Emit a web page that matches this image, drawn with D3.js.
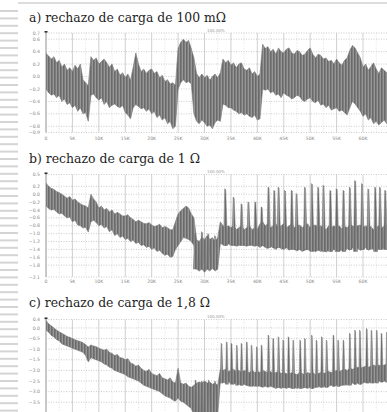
<!DOCTYPE html>
<html>
<head>
<meta charset="utf-8">
<script src="https://cdn.jsdelivr.net/npm/d3@7"></script>
<style>
  body { margin: 0; background: #fff; }
  svg { display: block; }
</style>
</head>
<body>
<script>
// x ticks (thousands of samples)
const xTicks = [0, 5, 10, 15, 20, 25, 30, 35, 40, 45, 50, 55, 60];
const xTickLabels = ["0", "5K", "10K", "15K", "20K", "25K", "30K", "35K", "40K", "45K", "50K", "55K", "60K"];
// the traces are read every 0.5K from 0 to 65K
const sampleStep = 0.5;

// a) 100 mOhm -- upper / lower edge of the noisy trace
const aHi = [
  0.37,0.33,0.28,0.32,0.22,0.26,0.15,0.2,0.1,0.14,
  0.08,0.18,0.12,0.2,-0.05,-0.1,-0.15,0.32,0.26,0.3,
  0.2,0.24,0.28,0.22,0.15,0.2,0.08,0.12,0.02,0.06,
  -0.02,0.04,-0.06,0.15,0.38,0.2,0.08,0.12,0.05,0.1,
  0.12,0.05,0.08,-0.02,0.02,-0.08,-0.05,-0.12,-0.1,-0.14,
  0.45,0.55,0.6,0.55,0.58,0.45,0.3,0.05,-0.02,0.04,
  -0.02,0.02,-0.06,0.0,0.04,-0.02,0.06,0.28,0.22,0.26,
  0.18,0.22,0.14,0.2,0.22,0.12,0.1,0.14,0.04,0.08,
  0.0,0.04,0.52,0.45,0.48,0.4,0.44,0.36,0.46,0.4,
  0.38,0.44,0.46,0.38,0.36,0.42,0.4,0.34,0.36,0.42,
  0.46,0.36,0.3,0.36,0.34,0.28,0.3,0.24,0.26,0.2,
  0.28,0.22,0.18,0.26,0.3,0.42,0.5,0.46,0.38,0.3,
  0.15,0.2,0.1,0.16,0.22,0.12,0.05,0.14,0.1,0.06,
  0.1];
const aLo = [
  -0.2,-0.26,-0.3,-0.28,-0.34,-0.3,-0.4,-0.36,-0.45,-0.42,
  -0.5,-0.46,-0.56,-0.5,-0.6,-0.58,-0.72,-0.3,-0.28,-0.34,
  -0.38,-0.34,-0.45,-0.4,-0.5,-0.46,-0.44,-0.48,-0.5,-0.46,
  -0.58,-0.62,-0.68,-0.5,-0.45,-0.48,-0.52,-0.5,-0.56,-0.52,
  -0.6,-0.56,-0.66,-0.62,-0.7,-0.66,-0.76,-0.72,-0.84,-0.8,
  -0.2,-0.1,-0.05,-0.1,-0.08,-0.12,-0.6,-0.72,-0.76,-0.7,
  -0.74,-0.8,-0.78,-0.84,-0.74,-0.7,-0.72,-0.44,-0.46,-0.5,
  -0.5,-0.54,-0.56,-0.6,-0.58,-0.62,-0.6,-0.64,-0.66,-0.62,
  -0.7,-0.68,-0.2,-0.22,-0.2,-0.26,-0.24,-0.3,-0.28,-0.34,
  -0.26,-0.3,-0.32,-0.36,-0.34,-0.3,-0.32,-0.38,-0.4,-0.36,
  -0.34,-0.4,-0.42,-0.38,-0.46,-0.44,-0.5,-0.46,-0.54,-0.52,
  -0.5,-0.56,-0.54,-0.58,-0.62,-0.5,-0.4,-0.44,-0.5,-0.56,
  -0.64,-0.6,-0.7,-0.66,-0.76,-0.72,-0.78,-0.74,-0.7,-0.76,
  -0.72];
const aYTicks = [0.7, 0.6, 0.4, 0.2, 0.0, -0.2, -0.4, -0.6, -0.8, -0.9];

// b) 1 Ohm
const bHi = [
  0.28,0.2,0.15,0.12,0.07,0.04,0.0,-0.05,-0.1,-0.06,
  -0.15,-0.12,-0.2,-0.24,-0.28,-0.3,-0.35,0.0,-0.12,-0.2,
  -0.35,-0.3,-0.4,-0.36,-0.45,-0.4,-0.5,-0.46,-0.5,-0.55,
  -0.55,-0.52,-0.6,-0.64,-0.7,-0.66,-0.7,-0.74,-0.75,-0.72,
  -0.78,-0.82,-0.8,-0.76,-0.85,-0.82,-0.85,-0.9,-0.9,-0.7,
  -0.5,-0.42,-0.36,-0.3,-0.35,-0.5,-0.6,-1.15,-1.2,-1.1,
  -1.15,-1.05,-1.15,-1.1,-1.2,-1.1,-0.7,-0.8,-0.85,-0.8,
  -0.85,-0.8,-0.9,-0.85,-0.8,-0.9,-0.85,-0.8,-0.9,-0.85,
  -0.9,-0.75,-0.7,-0.8,-0.75,-0.85,-0.8,-0.75,-0.85,-0.8,
  -0.75,-0.85,-0.8,-0.75,-0.85,-0.8,-0.78,-0.85,-0.8,-0.75,
  -0.85,-0.8,-0.78,-0.85,-0.8,-0.85,-0.9,-0.8,-0.85,-0.8,
  -0.85,-0.8,-0.88,-0.82,-0.85,-0.78,-0.8,-0.85,-0.8,-0.78,
  -0.85,-0.8,-0.85,-0.82,-0.9,-0.85,-0.8,-0.85,-0.82,-0.8,
  -0.85];
const bLo = [
  -0.3,-0.36,-0.4,-0.38,-0.45,-0.5,-0.48,-0.55,-0.6,-0.58,
  -0.7,-0.66,-0.78,-0.8,-0.86,-0.84,-0.96,-0.7,-0.66,-0.72,
  -0.8,-0.76,-0.86,-0.82,-0.95,-0.9,-1.05,-1.0,-1.1,-1.06,
  -1.15,-1.12,-1.2,-1.16,-1.25,-1.22,-1.3,-1.28,-1.35,-1.32,
  -1.4,-1.36,-1.45,-1.42,-1.5,-1.55,-1.52,-1.6,-1.58,-1.4,
  -1.3,-1.2,-1.1,-1.12,-1.15,-1.2,-1.3,-1.9,-1.95,-1.9,
  -1.98,-1.9,-1.95,-1.88,-1.95,-1.9,-1.25,-1.28,-1.3,-1.26,
  -1.3,-1.28,-1.32,-1.3,-1.28,-1.3,-1.32,-1.28,-1.3,-1.32,
  -1.3,-1.35,-1.3,-1.35,-1.38,-1.32,-1.36,-1.4,-1.34,-1.38,
  -1.4,-1.36,-1.42,-1.38,-1.4,-1.44,-1.4,-1.45,-1.42,-1.4,
  -1.44,-1.4,-1.46,-1.42,-1.45,-1.4,-1.47,-1.42,-1.45,-1.4,
  -1.42,-1.46,-1.4,-1.44,-1.38,-1.42,-1.36,-1.4,-1.38,-1.42,
  -1.4,-1.36,-1.42,-1.38,-1.4,-1.44,-1.38,-1.4,-1.36,-1.4,
  -1.4];
// sawtooth spikes on top of the trace: position (K), peak, foot
const bTeethX   = [28.2,29.5,30.7,32.0,33.9,35.5,37.0,38.3,39.6,40.8,42.1,43.2,44.0,45.2,46.5,47.4,49.0,50.3,51.5,52.5,53.8,55.0,56.3,57.5,58.5,59.8,61.0,62.3,63.2,64.2];
const bTeethTop = [-1.0,-0.95,-1.0,-1.05,0.14,-0.07,-0.24,-0.19,-0.19,-0.32,0.18,0.1,0.18,0.1,0.1,0.02,0.18,0.27,0.18,0.23,0.1,0.14,0.1,0.18,0.35,0.27,0.14,0.18,0.18,0.1];
const bTeethLo  = [-1.9,-1.9,-1.9,-1.9,-1.3,-1.3,-1.3,-1.3,-1.3,-1.3,-1.35,-1.35,-1.35,-1.35,-1.4,-1.4,-1.4,-1.45,-1.4,-1.45,-1.45,-1.45,-1.45,-1.4,-1.45,-1.4,-1.4,-1.45,-1.4,-1.4];
const bYTicks = [0.5, 0.2, 0.0, -0.2, -0.4, -0.6, -0.8, -1.0, -1.2, -1.4, -1.6, -1.8, -2.1];

// c) 1,8 Ohm
const cHi = [
  0.35,0.2,0.1,0.0,-0.1,-0.18,-0.25,-0.32,-0.4,-0.44,
  -0.5,-0.56,-0.6,-0.64,-0.7,-0.78,-0.9,-0.8,-0.85,-0.88,
  -0.95,-1.0,-1.05,-1.0,-1.15,-1.2,-1.3,-1.25,-1.4,-1.42,
  -1.5,-1.45,-1.65,-1.7,-1.8,-1.75,-1.9,-2.0,-2.05,-1.95,
  -2.15,-2.2,-2.25,-2.15,-2.35,-2.4,-2.45,-2.35,-2.55,-2.6,
  -1.9,-2.6,-2.65,-2.6,-2.75,-2.8,-2.7,-2.6,-2.55,-2.6,
  -2.5,-2.6,-2.55,-2.65,-2.6,-2.7,-1.95,-2.0,-1.95,-2.05,
  -2.0,-1.95,-2.05,-2.0,-2.1,-2.0,-2.05,-2.1,-2.0,-2.1,
  -2.05,-2.1,-2.0,-2.05,-2.1,-2.05,-2.15,-2.1,-2.05,-2.15,
  -2.1,-2.15,-2.2,-2.1,-2.15,-2.2,-2.1,-2.15,-2.2,-2.1,
  -2.15,-2.1,-2.2,-2.15,-2.1,-2.15,-2.1,-2.05,-2.1,-2.05,
  -2.0,-2.05,-2.0,-1.95,-2.0,-1.9,-1.95,-1.9,-1.85,-1.9,
  -1.85,-1.8,-1.85,-1.8,-1.75,-1.8,-1.75,-1.8,-1.75,-1.7,
  -1.75];
const cLo = [
  -0.1,-0.2,-0.35,-0.42,-0.55,-0.6,-0.75,-0.8,-0.85,-0.9,
  -0.95,-1.0,-1.05,-1.1,-1.15,-1.3,-1.6,-1.4,-1.45,-1.5,
  -1.55,-1.6,-1.7,-1.75,-1.85,-1.9,-2.0,-2.05,-2.1,-2.15,
  -2.2,-2.3,-2.35,-2.4,-2.45,-2.5,-2.6,-2.7,-2.75,-2.8,
  -2.85,-2.9,-2.95,-3.0,-3.1,-3.2,-3.25,-3.3,-3.4,-3.45,
  -3.3,-3.45,-3.5,-3.6,-3.7,-3.8,-4.1,-4.1,-4.1,-4.1,
  -4.1,-4.1,-4.1,-4.1,-4.1,-4.1,-2.5,-2.55,-2.6,-2.55,
  -2.6,-2.65,-2.6,-2.65,-2.7,-2.65,-2.7,-2.75,-2.7,-2.75,
  -2.7,-2.75,-2.8,-2.75,-2.8,-2.75,-2.8,-2.85,-2.8,-2.85,
  -2.8,-2.85,-2.8,-2.85,-2.8,-2.85,-2.8,-2.85,-2.8,-2.85,
  -2.8,-2.85,-2.8,-2.75,-2.8,-2.75,-2.8,-2.75,-2.7,-2.75,
  -2.7,-2.75,-2.7,-2.65,-2.7,-2.65,-2.6,-2.65,-2.6,-2.65,
  -2.6,-2.55,-2.6,-2.55,-2.6,-2.55,-2.5,-2.55,-2.5,-2.55,
  -2.5];
const cTeethX   = [28.3,29.5,30.8,32.0,33.2,34.2,35.1,36.1,37.0,38.0,38.9,39.9,40.8,42.1,43.0,44.0,44.9,45.9,46.8,48.1,49.0,50.3,51.2,52.2,53.1,54.4,55.3,56.3,57.5,58.5,59.4,60.7,61.6,62.6,63.5,64.5];
const cTeethTop = [-2.45,-2.5,-2.45,-2.5,-0.72,-0.65,-0.72,-0.8,-0.72,-0.65,-0.8,-0.88,-0.8,-0.33,-0.49,-0.41,-0.57,-0.41,-0.57,-0.57,-0.49,-0.33,-0.57,-0.41,-0.57,-0.33,-0.57,-0.57,-0.25,-0.1,-0.1,-0.02,-0.1,-0.1,-0.25,-0.2];
const cTeethLo  = [-4.1,-4.1,-4.1,-4.1,-2.6,-2.65,-2.65,-2.7,-2.7,-2.7,-2.75,-2.75,-2.75,-2.7,-2.75,-2.8,-2.8,-2.8,-2.85,-2.85,-2.8,-2.85,-2.8,-2.8,-2.8,-2.75,-2.75,-2.7,-2.7,-2.65,-2.65,-2.6,-2.6,-2.6,-2.55,-2.55];
const cYTicks = [0.4, 0.0, -0.5, -1.0, -1.5, -2.0, -2.5, -3.0, -3.5];

const W = 387, H = 412;
const svg = d3.select("body").append("svg").attr("width", W).attr("height", H);

const defs = svg.append("defs");
const pat = defs.append("pattern").attr("id", "hatch")
  .attr("patternUnits", "userSpaceOnUse").attr("width", 3).attr("height", 3);
pat.append("rect").attr("width", 3).attr("height", 3).attr("fill", "#7c7c7c");
pat.append("rect").attr("x", 2).attr("width", 1).attr("height", 3).attr("fill", "#979797");
pat.append("rect").attr("x", 0).attr("width", 1).attr("height", 3).attr("fill", "#6a6a6a");

// page artefacts: binder lines on the left, rule at the top
svg.append("rect").attr("x", 18).attr("y", 2).attr("width", W - 18).attr("height", 2).attr("fill", "#dcdcdc");
svg.selectAll(".stripe").data(d3.range(10, H, 7.4)).enter().append("rect")
  .attr("x", 0).attr("y", d => d).attr("width", 18).attr("height", 2).attr("fill", "#d4d4d4");

const x = d3.scaleLinear().domain([0, 60]).range([46, 363]);

function panel(opt) {
  const g = svg.append("g");
  const y = d3.scaleLinear().domain(opt.domain).range(opt.range);
  const top = opt.range[1], bot = Math.min(opt.range[0], H);

  g.append("text").attr("x", 29).attr("y", opt.titleY)
    .attr("font-family", "DejaVu Serif").attr("font-size", 12.5).attr("fill", "#1e1e1e")
    .attr("textLength", opt.titleW).attr("lengthAdjust", "spacingAndGlyphs")
    .text(opt.title);

  // horizontal dotted grid
  g.selectAll(".hg").data(opt.yTicks).enter().append("line")
    .attr("x1", 46).attr("x2", W).attr("y1", d => y(d)).attr("y2", d => y(d))
    .attr("stroke", "#b5b5b5").attr("stroke-width", 0.7).attr("stroke-dasharray", "1,1.5");
  // vertical grid
  g.selectAll(".vg").data(xTicks).enter().append("line")
    .attr("x1", d => x(d)).attr("x2", d => x(d)).attr("y1", top).attr("y2", bot)
    .attr("stroke", "#c4c4c4").attr("stroke-width", 0.8);
  g.selectAll(".vm").data(xTicks.map(d => d + 2.5)).enter().append("line")
    .attr("x1", d => x(d)).attr("x2", d => x(d)).attr("y1", top).attr("y2", bot)
    .attr("stroke", "#d0d0d0").attr("stroke-width", 0.6).attr("stroke-dasharray", "1,1.5");

  // axis
  g.append("line").attr("x1", 46).attr("x2", 46).attr("y1", top - 2).attr("y2", bot)
    .attr("stroke", "#9a9a9a").attr("stroke-width", 0.8);
  g.append("rect").attr("x", 44.5).attr("y", top - 2).attr("width", 3).attr("height", 1.6).attr("fill", "#333");

  g.selectAll(".yl").data(opt.yTicks).enter().append("text")
    .attr("x", 40).attr("y", d => y(d) + 1.6).attr("text-anchor", "end")
    .attr("font-family", "DejaVu Sans").attr("font-size", 4.6).attr("fill", "#8a8a8a")
    .text(d => d3.format(".1f")(d).replace("-", "\u2212"));
  if (opt.xLabelY) {
    g.selectAll(".xl").data(xTicks).enter().append("text")
      .attr("x", d => x(d)).attr("y", opt.xLabelY).attr("text-anchor", "middle")
      .attr("font-family", "DejaVu Sans").attr("font-size", 4.6).attr("fill", "#8a8a8a")
      .text((d, i) => xTickLabels[i]);
  }
  g.append("text").attr("x", 207).attr("y", top - 1.5)
    .attr("font-family", "DejaVu Sans").attr("font-size", 4).attr("fill", "#999")
    .text("100.00%");

  const clip = "clip" + opt.id;
  defs.append("clipPath").attr("id", clip).append("rect")
    .attr("x", 46).attr("y", top - 2).attr("width", W - 46).attr("height", bot - top + 2);
  const pg = g.append("g").attr("clip-path", `url(#${clip})`);

  const pts = opt.hi.map((d, i) => ({ x: i * sampleStep, hi: d, lo: opt.lo[i] }));
  const area = d3.area().x(d => x(d.x)).y0(d => y(d.lo)).y1(d => y(d.hi));
  pg.append("path").datum(pts).attr("d", area).attr("fill", "url(#hatch)")
    .attr("stroke", "#767676").attr("stroke-width", 0.6);

  if (opt.teethX) {
    const tw = opt.toothW;
    const teeth = opt.teethX.map((d, i) => ({ x: d, top: opt.teethTop[i], lo: opt.teethLo[i] }));
    pg.selectAll(".tooth").data(teeth).enter().append("path")
      .attr("d", d => `M${x(d.x - tw * 0.4)},${y(d.lo)}L${x(d.x - tw * 0.1)},${y(d.top)}` +
        `L${x(d.x + tw * 0.15)},${y(d.top) + 1}L${x(d.x + tw * 0.6)},${y(d.lo)}Z`)
      .attr("fill", "url(#hatch)").attr("stroke", "#727272").attr("stroke-width", 0.5);
  }
}

panel({ id: "a", title: "a) rechazo de carga de 100 m\u03A9", titleY: 21.5, titleW: 197,
  domain: [-0.9, 0.7], range: [132.5, 33], yTicks: aYTicks, xLabelY: 139.5,
  hi: aHi, lo: aLo });
panel({ id: "b", title: "b) rechazo de carga de 1 \u03A9", titleY: 163, titleW: 171,
  domain: [-2.1, 0.5], range: [277, 174.5], yTicks: bYTicks, xLabelY: 283,
  hi: bHi, lo: bLo, teethX: bTeethX, teethTop: bTeethTop, teethLo: bTeethLo, toothW: 0.75 });
panel({ id: "c", title: "c) rechazo de carga de 1,8 \u03A9", titleY: 306.5, titleW: 181,
  domain: [-4.0, 0.4], range: [412.8, 319.5], yTicks: cYTicks, xLabelY: null,
  hi: cHi, lo: cLo, teethX: cTeethX, teethTop: cTeethTop, teethLo: cTeethLo, toothW: 0.55 });
</script>
</body>
</html>
